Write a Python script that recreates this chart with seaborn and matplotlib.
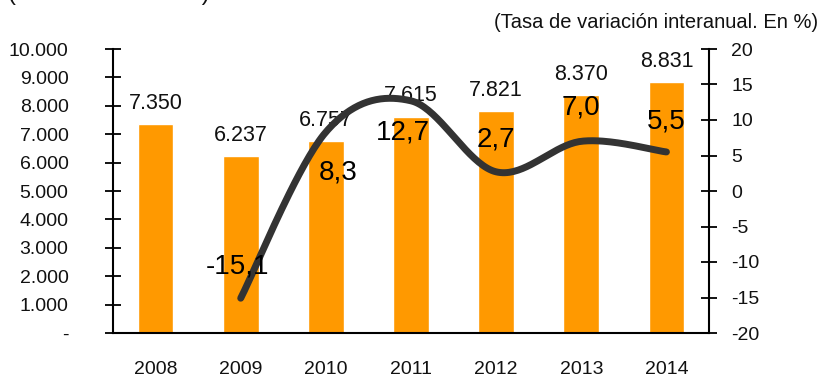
import numpy as np
import pandas as pd
import matplotlib
matplotlib.use("Agg")
import matplotlib.pyplot as plt
import seaborn as sns

# Data
years = ["2008", "2009", "2010", "2011", "2012", "2013", "2014"]
totals = [7350, 6237, 6757, 7615, 7821, 8370, 8831]
growth_years = ["2009", "2010", "2011", "2012", "2013", "2014"]
growth = [-15.1, 8.3, 12.7, 2.7, 7.0, 5.5]

left_ticks = list(range(0, 10001, 1000))
right_ticks = list(range(-20, 21, 5))

BAR = "#FF9900"
LINE = "#333333"

sns.set_theme(style="white")
plt.rcParams["font.family"] = ["Liberation Sans", "DejaVu Sans"]


def fmt_thousands(v):
    return "-" if v == 0 else f"{v:,}".replace(",", ".")


def fmt_dec(v):
    return f"{v:.1f}".replace(".", ",")


def smooth_curve(xs, ys, steps=40):
    """Cubic Bezier smoothing through the points (Catmull-Rom style)."""
    pts = np.column_stack([xs, ys]).astype(float)
    n = len(pts)
    out = [pts[0]]
    t = np.linspace(0, 1, steps)[1:, None]
    for i in range(n - 1):
        p0 = pts[i - 1] if i > 0 else pts[i]
        p1 = pts[i]
        p2 = pts[i + 1]
        p3 = pts[i + 2] if i + 2 < n else pts[i + 1]
        c1 = p1 + (p2 - p0) / 6.0
        c2 = p2 - (p3 - p1) / 6.0
        seg = ((1 - t) ** 3) * p1 + 3 * ((1 - t) ** 2) * t * c1 + 3 * (1 - t) * t ** 2 * c2 + t ** 3 * p2
        out.extend(seg)
    out = np.array(out)
    return out[:, 0], out[:, 1]


fig = plt.figure(figsize=(8.22, 3.82), dpi=100)
ax = fig.add_axes([113 / 822, 1 - 333 / 382, (709 - 113) / 822, (333 - 49) / 382])

df = pd.DataFrame({"year": years, "total": totals})
sns.barplot(data=df, x="year", y="total", color=BAR, width=0.42,
            saturation=1, ax=ax, zorder=2)

ax.set_xlim(-0.5, len(years) - 0.5)
ax.set_ylim(0, 10000)
ax.set_yticks(left_ticks)
ax.set_yticklabels([fmt_thousands(v) for v in left_ticks])
ax.set_xlabel("")
ax.set_ylabel("")

# category boundaries carry the tick marks, labels sit at category centres
ax.set_xticks(range(len(years)))
ax.set_xticklabels(years)
ax.set_xticks(np.arange(-0.5, len(years), 1.0), minor=True)
ax.tick_params(axis="x", which="major", length=0, pad=20, labelsize=14, colors="#111111")
ax.tick_params(axis="x", which="minor", direction="inout", length=13, width=1.3, color="black")
ax.tick_params(axis="y", direction="inout", length=12, width=1.3, pad=26,
               labelsize=14, colors="#111111")
ax.tick_params(axis="y", color="black")

for side in ["left", "bottom"]:
    ax.spines[side].set_color("black")
    ax.spines[side].set_linewidth(1.5)
ax.spines["top"].set_visible(False)
ax.spines["right"].set_visible(False)

for i, v in enumerate(totals):
    ax.annotate(fmt_thousands(v), (i, v), xytext=(0, 11), textcoords="offset points",
                ha="center", va="baseline", fontsize=15.5, color="#111111")

# growth rate on the secondary axis
ax2 = ax.twinx()
gx = [years.index(y) for y in growth_years]
cx, cy = smooth_curve(gx, growth)
sns.lineplot(x=cx, y=cy, sort=False, ax=ax2, color=LINE, linewidth=5,
             solid_capstyle="round", zorder=3)
ax2.set_ylim(-20, 20)
ax2.set_yticks(right_ticks)
ax2.set_yticklabels([str(v) for v in right_ticks])
ax2.tick_params(axis="y", direction="inout", length=12, width=1.3, pad=10,
                labelsize=14, colors="#111111")
ax2.tick_params(axis="y", color="black")
for side in ["left", "bottom", "top"]:
    ax2.spines[side].set_visible(False)
ax2.spines["right"].set_color("black")
ax2.spines["right"].set_linewidth(1.5)
ax2.grid(False)
ax.grid(False)

# label offsets in points (dx, dy)
offsets = [(-2, 23), (9, -29), (-6, -23), (0, 23), (0, 24), (0, 22)]
for x, v, (dx, dy) in zip(gx, growth, offsets):
    ax2.annotate(fmt_dec(v), (x, v), xytext=(dx, dy), textcoords="offset points",
                 ha="center", va="center", fontsize=20, color="black", zorder=4)

fig.text(8 / 822, 1.0, "(Millones de euros)", ha="left", va="baseline",
         fontsize=17, color="#111111")
fig.text(818 / 822, 1 - 23 / 382, "(Tasa de variación interanual. En %)",
         ha="right", va="center", fontsize=14.5, color="#111111")

fig.savefig("out.png", dpi=100)
